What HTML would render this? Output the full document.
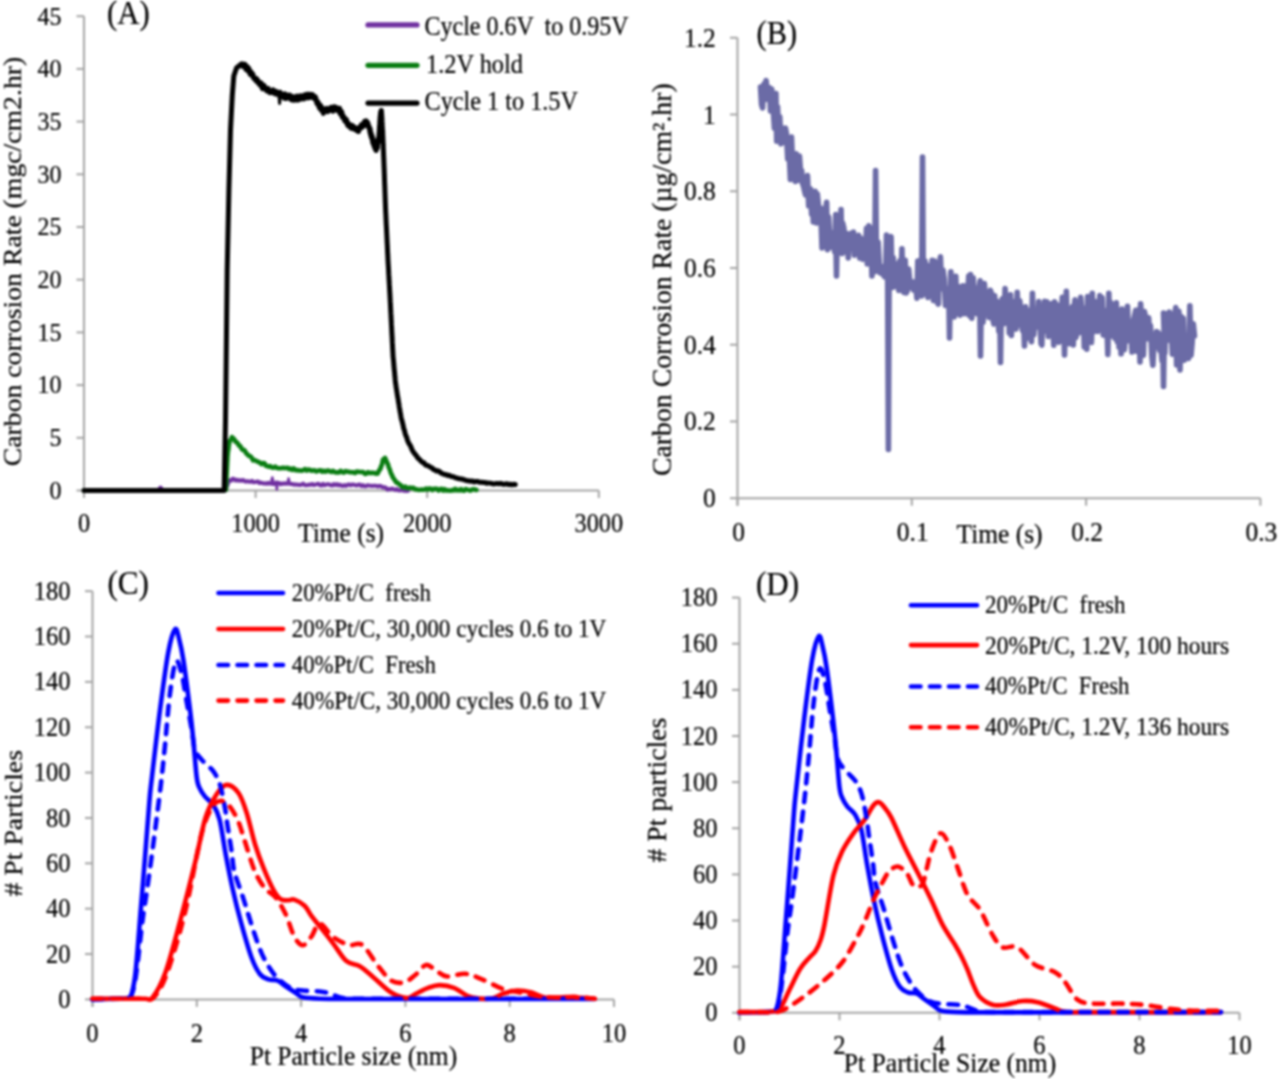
<!DOCTYPE html>
<html><head><meta charset="utf-8"><title>Carbon corrosion and Pt particle size</title>
<style>
html,body{margin:0;padding:0;background:#fff;}
body{width:1280px;height:1079px;overflow:hidden;}
svg{display:block;filter:blur(1px);font-family:"Liberation Serif", serif;}
</style></head>
<body>
<svg width="1280" height="1079" viewBox="0 0 1280 1079">
<rect width="1280" height="1079" fill="#ffffff"/>
<line x1="84.00" y1="16.20" x2="84.00" y2="498.00" stroke="#a4a4a4" stroke-width="2.0"/>
<line x1="84.00" y1="490.50" x2="598.80" y2="490.50" stroke="#a4a4a4" stroke-width="2.0"/>
<line x1="76.50" y1="490.50" x2="84.00" y2="490.50" stroke="#a4a4a4" stroke-width="2.0"/>
<g transform="translate(61.50,498.80) scale(1,1.08)"><text x="0" y="0" font-size="24" text-anchor="end" fill="#000000" stroke="#000000" stroke-width="0.2" xml:space="preserve">0</text></g>
<line x1="76.50" y1="437.80" x2="84.00" y2="437.80" stroke="#a4a4a4" stroke-width="2.0"/>
<g transform="translate(61.50,446.10) scale(1,1.08)"><text x="0" y="0" font-size="24" text-anchor="end" fill="#000000" stroke="#000000" stroke-width="0.2" xml:space="preserve">5</text></g>
<line x1="76.50" y1="385.10" x2="84.00" y2="385.10" stroke="#a4a4a4" stroke-width="2.0"/>
<g transform="translate(61.50,393.40) scale(1,1.08)"><text x="0" y="0" font-size="24" text-anchor="end" fill="#000000" stroke="#000000" stroke-width="0.2" xml:space="preserve">10</text></g>
<line x1="76.50" y1="332.40" x2="84.00" y2="332.40" stroke="#a4a4a4" stroke-width="2.0"/>
<g transform="translate(61.50,340.70) scale(1,1.08)"><text x="0" y="0" font-size="24" text-anchor="end" fill="#000000" stroke="#000000" stroke-width="0.2" xml:space="preserve">15</text></g>
<line x1="76.50" y1="279.70" x2="84.00" y2="279.70" stroke="#a4a4a4" stroke-width="2.0"/>
<g transform="translate(61.50,288.00) scale(1,1.08)"><text x="0" y="0" font-size="24" text-anchor="end" fill="#000000" stroke="#000000" stroke-width="0.2" xml:space="preserve">20</text></g>
<line x1="76.50" y1="227.00" x2="84.00" y2="227.00" stroke="#a4a4a4" stroke-width="2.0"/>
<g transform="translate(61.50,235.30) scale(1,1.08)"><text x="0" y="0" font-size="24" text-anchor="end" fill="#000000" stroke="#000000" stroke-width="0.2" xml:space="preserve">25</text></g>
<line x1="76.50" y1="174.30" x2="84.00" y2="174.30" stroke="#a4a4a4" stroke-width="2.0"/>
<g transform="translate(61.50,182.60) scale(1,1.08)"><text x="0" y="0" font-size="24" text-anchor="end" fill="#000000" stroke="#000000" stroke-width="0.2" xml:space="preserve">30</text></g>
<line x1="76.50" y1="121.60" x2="84.00" y2="121.60" stroke="#a4a4a4" stroke-width="2.0"/>
<g transform="translate(61.50,129.90) scale(1,1.08)"><text x="0" y="0" font-size="24" text-anchor="end" fill="#000000" stroke="#000000" stroke-width="0.2" xml:space="preserve">35</text></g>
<line x1="76.50" y1="68.90" x2="84.00" y2="68.90" stroke="#a4a4a4" stroke-width="2.0"/>
<g transform="translate(61.50,77.20) scale(1,1.08)"><text x="0" y="0" font-size="24" text-anchor="end" fill="#000000" stroke="#000000" stroke-width="0.2" xml:space="preserve">40</text></g>
<line x1="76.50" y1="16.20" x2="84.00" y2="16.20" stroke="#a4a4a4" stroke-width="2.0"/>
<g transform="translate(61.50,24.50) scale(1,1.08)"><text x="0" y="0" font-size="24" text-anchor="end" fill="#000000" stroke="#000000" stroke-width="0.2" xml:space="preserve">45</text></g>
<line x1="84.00" y1="490.50" x2="84.00" y2="498.00" stroke="#a4a4a4" stroke-width="2.0"/>
<g transform="translate(84.00,532.00) scale(1,1.08)"><text x="0" y="0" font-size="24.3" text-anchor="middle" fill="#000000" stroke="#000000" stroke-width="0.2" xml:space="preserve">0</text></g>
<line x1="255.60" y1="490.50" x2="255.60" y2="498.00" stroke="#a4a4a4" stroke-width="2.0"/>
<g transform="translate(255.60,532.00) scale(1,1.08)"><text x="0" y="0" font-size="24.3" text-anchor="middle" fill="#000000" stroke="#000000" stroke-width="0.2" xml:space="preserve">1000</text></g>
<line x1="427.20" y1="490.50" x2="427.20" y2="498.00" stroke="#a4a4a4" stroke-width="2.0"/>
<g transform="translate(427.20,532.00) scale(1,1.08)"><text x="0" y="0" font-size="24.3" text-anchor="middle" fill="#000000" stroke="#000000" stroke-width="0.2" xml:space="preserve">2000</text></g>
<line x1="598.80" y1="490.50" x2="598.80" y2="498.00" stroke="#a4a4a4" stroke-width="2.0"/>
<g transform="translate(598.80,532.00) scale(1,1.08)"><text x="0" y="0" font-size="24.3" text-anchor="middle" fill="#000000" stroke="#000000" stroke-width="0.2" xml:space="preserve">3000</text></g>
<g transform="translate(298.00,542.00) scale(1,1.08)"><text x="0" y="0" font-size="25.3" text-anchor="start" textLength="86.0" lengthAdjust="spacingAndGlyphs" fill="#000000" stroke="#000000" stroke-width="0.2" xml:space="preserve">Time (s)</text></g>
<g transform="translate(20.90,466.20) rotate(-90)"><text x="0" y="0" font-size="25.7" textLength="409.4" lengthAdjust="spacingAndGlyphs" fill="#000000" stroke="#000000" stroke-width="0.2" xml:space="preserve">Carbon corrosion Rate (mgc/cm2.hr)</text></g>
<g transform="translate(107.00,23.90) scale(1,1.08)"><text x="0" y="0" font-size="30.8" text-anchor="start" fill="#000000" stroke="#000000" stroke-width="0.2" xml:space="preserve">(A)</text></g>
<line x1="368.00" y1="24.90" x2="417.00" y2="24.90" stroke="#7030a0" stroke-width="5.2" stroke-linecap="round"/>
<line x1="368.00" y1="65.30" x2="417.00" y2="65.30" stroke="#0a7d12" stroke-width="5.2" stroke-linecap="round"/>
<line x1="368.00" y1="103.10" x2="417.00" y2="103.10" stroke="#000000" stroke-width="5.2" stroke-linecap="round"/>
<g transform="translate(424.50,34.60) scale(1,1.08)"><text x="0" y="0" font-size="24.6" text-anchor="start" textLength="204.0" lengthAdjust="spacingAndGlyphs" fill="#000000" stroke="#000000" stroke-width="0.2" xml:space="preserve">Cycle 0.6V  to 0.95V</text></g>
<g transform="translate(426.00,72.60) scale(1,1.08)"><text x="0" y="0" font-size="24.6" text-anchor="start" textLength="97.0" lengthAdjust="spacingAndGlyphs" fill="#000000" stroke="#000000" stroke-width="0.2" xml:space="preserve">1.2V hold</text></g>
<g transform="translate(424.50,110.10) scale(1,1.08)"><text x="0" y="0" font-size="24.6" text-anchor="start" textLength="153.5" lengthAdjust="spacingAndGlyphs" fill="#000000" stroke="#000000" stroke-width="0.2" xml:space="preserve">Cycle 1 to 1.5V</text></g>
<path d="M84.00,490.50 L85.51,490.50 L87.02,490.50 L88.53,490.50 L90.04,490.50 L91.55,490.50 L93.06,490.50 L94.57,490.50 L96.08,490.50 L97.59,490.50 L99.10,490.50 L100.61,490.50 L102.12,490.50 L103.63,490.50 L105.14,490.50 L106.65,490.50 L108.16,490.50 L109.67,490.50 L111.18,490.50 L112.69,490.50 L114.20,490.50 L115.71,490.50 L117.22,490.50 L118.73,490.50 L120.24,490.50 L121.76,490.50 L123.27,490.50 L124.78,490.50 L126.29,490.50 L127.80,490.50 L129.31,490.50 L130.82,490.50 L132.33,490.50 L133.84,490.50 L135.35,490.50 L136.86,490.50 L138.37,490.50 L139.88,490.50 L141.39,490.50 L142.90,490.50 L144.41,490.50 L145.92,490.50 L147.43,490.50 L148.94,490.50 L150.45,490.50 L151.96,490.50 L153.47,490.50 L154.98,490.50 L156.49,490.50 L158.00,490.50 L159.25,489.00 L160.50,487.50 L161.75,489.00 L163.00,490.50 L164.52,490.50 L166.05,490.49 L167.57,490.49 L169.10,490.48 L170.62,490.48 L172.15,490.47 L173.67,490.47 L175.20,490.46 L176.72,490.46 L178.24,490.45 L179.77,490.45 L181.29,490.44 L182.82,490.44 L184.34,490.43 L185.87,490.43 L187.39,490.42 L188.91,490.42 L190.44,490.41 L191.96,490.41 L193.49,490.40 L195.01,490.40 L196.54,490.39 L198.06,490.39 L199.59,490.38 L201.11,490.38 L202.63,490.37 L204.16,490.37 L205.68,490.36 L207.21,490.36 L208.73,490.35 L210.26,490.35 L211.78,490.34 L213.30,490.34 L214.83,490.33 L216.35,490.33 L217.88,490.32 L219.40,490.32 L220.93,490.31 L222.45,490.31 L223.98,490.30 L225.50,490.30 L225.50,489.83 L226.10,488.72 L226.70,486.75 L227.30,485.51 L227.90,483.89 L228.50,481.22 L229.83,480.19 L231.17,480.74 L232.50,478.77 L234.00,478.94 L235.50,480.53 L237.00,479.81 L238.50,480.69 L240.00,480.26 L241.50,480.72 L243.00,480.00 L244.50,481.04 L246.00,481.63 L247.50,481.18 L249.00,481.73 L250.50,481.78 L252.00,480.85 L253.50,482.26 L255.00,482.13 L256.50,481.78 L258.00,481.46 L259.50,483.12 L261.00,482.58 L262.50,483.19 L264.00,483.54 L265.50,483.30 L267.00,483.73 L268.50,482.83 L270.00,483.62 L271.50,483.04 L273.00,483.98 L274.50,483.93 L276.00,482.58 L277.50,482.70 L279.00,482.91 L280.50,484.31 L282.00,483.41 L283.50,483.81 L285.00,483.28 L286.50,483.71 L288.00,483.55 L289.50,483.54 L291.00,484.02 L292.50,484.07 L294.00,484.70 L295.50,484.36 L297.00,484.86 L298.50,484.79 L300.00,485.08 L301.54,484.54 L303.08,483.66 L304.62,484.94 L306.15,485.16 L307.69,485.08 L309.23,484.51 L310.77,484.80 L312.31,483.93 L313.85,485.07 L315.38,484.64 L316.92,484.15 L318.46,483.78 L320.00,485.24 L321.54,485.51 L323.08,483.92 L324.62,485.23 L326.15,484.56 L327.69,484.13 L329.23,484.41 L330.77,485.30 L332.31,485.52 L333.85,484.06 L335.38,485.11 L336.92,484.12 L338.46,485.36 L340.00,484.70 L341.53,485.72 L343.05,485.93 L344.58,485.10 L346.11,486.02 L347.63,484.81 L349.16,484.42 L350.69,485.39 L352.22,484.40 L353.74,484.73 L355.27,485.14 L356.80,485.54 L358.32,484.75 L359.85,484.58 L361.38,486.09 L362.90,485.13 L364.43,486.32 L365.96,486.24 L367.48,485.33 L369.01,485.51 L370.54,485.65 L372.07,485.91 L373.59,485.85 L375.12,485.81 L376.65,485.95 L378.17,486.56 L379.70,485.81 L381.26,486.28 L382.82,487.40 L384.38,487.13 L385.94,487.84 L387.50,489.66 L389.06,489.03 L390.62,489.26 L392.19,488.48 L393.75,489.40 L395.31,489.88 L396.88,489.06 L398.44,490.32 L400.00,490.54 L401.60,489.61 L403.20,490.73 L404.80,490.54 L406.40,491.02 L408.00,490.80" fill="none" stroke="#7030a0" stroke-width="4.0" stroke-linejoin="round" stroke-linecap="round"/>
<path d="M271.50,480.50 L272.30,477.50 L273.10,481.00" fill="none" stroke="#7030a0" stroke-width="2.5" stroke-linejoin="round" stroke-linecap="round"/>
<path d="M276.40,484.00 L276.80,489.50 L277.40,484.00" fill="none" stroke="#7030a0" stroke-width="2.5" stroke-linejoin="round" stroke-linecap="round"/>
<path d="M288.00,481.50 L288.60,478.50 L289.30,481.50" fill="none" stroke="#7030a0" stroke-width="2.5" stroke-linejoin="round" stroke-linecap="round"/>
<path d="M84.00,490.50 L225.80,490.01 L225.88,489.18 L225.96,487.71 L226.03,484.74 L226.11,483.28 L226.19,482.98 L226.27,482.02 L226.35,479.06 L226.43,477.93 L226.50,476.67 L226.58,474.59 L226.66,473.15 L226.74,471.51 L226.82,470.09 L226.90,469.00 L226.97,466.88 L227.05,465.50 L227.13,464.75 L227.21,461.73 L227.29,461.28 L227.37,460.07 L227.44,457.69 L227.52,455.98 L227.60,455.61 L227.81,452.92 L228.02,451.26 L228.23,450.20 L228.44,449.17 L228.66,446.43 L228.87,445.31 L229.08,443.78 L229.29,443.22 L229.50,440.88 L230.75,440.11 L232.00,437.14 L233.25,438.32 L234.50,439.80 L235.38,441.52 L236.25,441.90 L237.12,442.70 L238.00,443.74 L239.17,445.73 L240.33,446.21 L241.50,448.61 L242.67,449.84 L243.83,449.70 L245.00,451.06 L246.16,453.30 L247.31,454.16 L248.47,455.67 L249.63,455.93 L250.79,456.69 L251.94,458.20 L253.10,460.39 L254.48,459.94 L255.86,460.69 L257.24,461.43 L258.62,462.04 L260.00,462.62 L261.47,464.14 L262.94,463.11 L264.41,463.31 L265.89,465.69 L267.36,466.06 L268.83,466.77 L270.30,466.17 L271.92,467.47 L273.53,467.69 L275.15,466.54 L276.77,467.86 L278.38,468.31 L280.00,468.23 L281.53,468.10 L283.06,467.81 L284.58,468.08 L286.11,468.02 L287.64,467.87 L289.17,469.08 L290.69,468.64 L292.22,469.85 L293.75,468.49 L295.38,470.30 L297.00,469.97 L298.62,470.52 L300.25,470.55 L301.88,470.65 L303.50,470.09 L305.12,469.06 L306.75,470.61 L308.38,469.55 L310.00,469.90 L311.53,470.70 L313.06,470.50 L314.59,470.35 L316.12,471.48 L317.65,470.90 L319.18,470.43 L320.71,470.33 L322.24,471.62 L323.77,470.93 L325.30,471.61 L326.83,470.83 L328.36,470.59 L329.89,471.34 L331.42,471.98 L332.95,470.77 L334.48,472.08 L336.01,472.42 L337.54,472.26 L339.07,472.37 L340.60,470.82 L342.22,472.13 L343.83,472.68 L345.45,471.12 L347.07,471.64 L348.68,471.71 L350.30,472.30 L351.92,472.17 L353.53,472.35 L355.15,473.03 L356.77,471.55 L358.38,471.73 L360.00,471.95 L361.59,472.01 L363.18,471.96 L364.77,473.84 L366.36,473.66 L367.95,472.19 L369.55,473.09 L371.14,472.78 L372.73,472.84 L374.32,472.98 L375.91,473.63 L377.50,473.57 L378.50,471.66 L379.50,469.85 L380.50,468.66 L381.00,466.55 L381.50,465.71 L382.00,464.33 L382.50,461.96 L383.00,459.66 L385.00,457.86 L385.83,459.75 L386.67,461.71 L387.50,463.57 L388.00,464.26 L388.50,466.60 L389.00,467.75 L389.50,468.86 L390.00,470.24 L390.50,471.99 L391.20,473.91 L391.90,474.84 L392.60,476.89 L393.30,477.92 L394.00,478.99 L395.33,481.01 L396.67,482.76 L398.00,482.94 L399.40,484.45 L400.80,485.25 L402.20,486.96 L403.76,487.43 L405.32,486.67 L406.88,488.08 L408.44,488.22 L410.00,487.52 L411.75,488.20 L413.50,487.80 L415.25,489.45 L417.00,489.42 L418.53,489.92 L420.07,489.78 L421.60,489.58 L423.13,489.75 L424.67,489.46 L426.20,488.59 L427.73,489.60 L429.27,488.48 L430.80,488.81 L432.33,490.12 L433.87,488.70 L435.40,488.84 L436.93,488.91 L438.47,490.51 L440.00,489.16 L441.52,488.86 L443.03,490.50 L444.55,489.07 L446.07,490.52 L447.58,490.19 L449.10,490.52 L450.62,490.76 L452.13,490.02 L453.65,490.47 L455.17,488.96 L456.68,490.43 L458.20,489.92 L459.72,490.34 L461.23,489.13 L462.75,490.42 L464.27,490.80 L465.78,489.06 L467.30,489.60 L468.82,490.09 L470.33,490.62 L471.85,489.46 L473.37,489.34 L474.88,489.49 L476.40,490.00" fill="none" stroke="#0a7d12" stroke-width="4.6" stroke-linejoin="round" stroke-linecap="round"/>
<path d="M84.00,490.50 L224.20,490.50 L225.50,420.00 L226.30,350.00 L227.20,270.00 L228.90,190.00 L230.50,130.00 L232.30,95.00 L233.80,76.00 L236.50,68.00 L241.40,64.00 L242.32,66.04 L243.23,64.09 L244.15,66.96 L245.07,64.45 L245.98,69.48 L246.90,66.32 L247.58,67.16 L248.25,71.37 L248.93,68.42 L249.60,72.35 L250.28,74.54 L250.95,71.64 L251.62,72.88 L252.30,75.79 L252.97,74.30 L253.65,78.25 L254.32,78.40 L255.00,79.41 L255.68,80.47 L256.36,78.46 L257.05,81.84 L257.73,80.08 L258.41,83.12 L259.09,83.60 L259.77,84.93 L260.45,82.68 L261.14,82.85 L261.82,87.26 L262.50,88.66 L263.44,85.05 L264.38,85.99 L265.31,89.11 L266.25,90.35 L267.19,91.15 L268.12,88.46 L269.06,91.03 L270.00,92.66 L271.01,92.07 L272.02,92.60 L273.04,89.83 L274.05,93.08 L275.06,93.84 L276.08,91.36 L277.09,94.21 L278.10,92.45 L279.09,95.30 L280.08,92.23 L281.06,96.51 L282.05,94.02 L283.04,96.43 L284.02,98.10 L285.01,93.87 L286.00,98.52 L286.98,97.97 L287.95,95.18 L288.93,96.08 L289.90,95.16 L290.88,99.37 L291.85,96.45 L292.82,100.18 L293.80,96.83 L294.83,100.14 L295.87,97.15 L296.90,96.18 L297.93,100.12 L298.97,96.39 L300.00,95.78 L301.00,99.14 L302.00,95.92 L303.00,97.84 L304.00,98.82 L305.00,94.70 L306.00,97.67 L307.08,94.23 L308.17,97.90 L309.25,94.24 L310.33,97.45 L311.42,94.45 L312.50,94.69 L313.38,95.97 L314.25,98.64 L315.12,96.60 L316.00,98.47 L316.50,101.86 L317.00,103.47 L317.50,104.03 L318.00,101.86 L318.50,105.79 L319.00,104.07 L319.50,108.10 L320.00,104.93 L320.68,105.53 L321.36,110.33 L322.04,107.74 L322.72,108.49 L323.40,113.36 L324.49,109.18 L325.57,109.90 L326.66,108.51 L327.74,111.66 L328.83,108.73 L329.91,110.27 L331.00,107.39 L332.00,110.71 L333.00,111.10 L334.00,106.67 L335.00,109.37 L336.00,107.29 L337.00,110.39 L338.00,110.40 L339.00,111.39 L339.56,108.28 L340.11,113.67 L340.67,114.30 L341.22,111.20 L341.78,112.05 L342.33,117.16 L342.89,115.21 L343.44,117.91 L344.00,117.01 L344.63,120.81 L345.26,118.40 L345.89,121.97 L346.51,119.67 L347.14,123.59 L347.77,125.41 L348.40,123.06 L349.32,126.74 L350.24,124.92 L351.16,128.30 L352.08,125.39 L353.00,128.57 L353.96,126.68 L354.92,129.43 L355.88,128.24 L356.84,130.64 L357.80,128.93 L358.50,131.49 L359.20,127.37 L359.90,128.71 L360.60,128.22 L361.30,124.80 L362.00,127.27 L362.88,123.87 L363.76,126.04 L364.64,121.36 L365.52,124.99 L366.40,120.86 L367.10,125.09 L367.80,122.70 L368.50,126.87 L368.78,127.71 L369.06,126.23 L369.33,129.01 L369.61,128.19 L369.89,132.23 L370.17,128.64 L370.44,134.07 L370.72,135.30 L371.00,132.77 L371.27,137.31 L371.55,134.79 L371.82,136.09 L372.09,139.28 L372.36,136.72 L372.64,141.96 L372.91,143.12 L373.18,139.73 L373.45,144.42 L373.73,141.97 L374.00,146.17 L374.52,143.97 L375.04,148.71 L375.56,146.16 L376.08,150.51 L376.60,148.00 L376.80,146.60 L377.00,148.53 L377.20,148.16 L377.40,147.50 L377.60,142.05 L377.80,141.95 L378.00,143.02 L378.20,138.81 L378.40,141.77 L378.60,138.19 L378.80,139.12 L378.87,136.02 L378.94,137.70 L379.01,133.89 L379.08,132.91 L379.15,134.42 L379.22,133.74 L379.29,132.62 L379.36,128.98 L379.43,131.11 L379.50,127.24 L379.57,125.95 L379.63,125.14 L379.70,126.09 L379.77,125.75 L379.84,121.00 L379.91,120.70 L379.98,122.47 L380.05,117.88 L380.12,121.09 L380.19,116.37 L380.26,118.94 L380.33,114.70 L380.40,115.84 L380.65,111.92 L380.90,114.56 L381.15,110.55 L381.40,110.50 L381.49,112.50 L381.58,113.34 L381.68,114.93 L381.77,116.08 L381.86,117.72 L381.95,119.17 L382.05,121.43 L382.14,122.73 L382.23,124.37 L382.32,125.99 L382.42,127.11 L382.51,128.93 L382.60,130.04 L382.66,131.46 L382.72,133.52 L382.78,135.02 L382.85,136.60 L382.91,137.68 L382.97,139.50 L383.03,140.68 L383.09,142.80 L383.15,144.27 L383.22,145.18 L383.28,147.36 L383.34,148.15 L383.40,149.60 L383.46,151.76 L383.52,152.87 L383.58,154.63 L383.65,156.29 L383.71,157.23 L383.77,159.48 L383.83,160.55 L383.89,162.24 L383.95,163.69 L384.02,165.63 L384.08,167.17 L384.14,168.25 L384.20,169.60 L384.25,171.34 L384.31,172.99 L384.36,174.19 L384.42,175.81 L384.47,177.96 L384.52,179.43 L384.58,181.25 L384.63,182.79 L384.68,184.22 L384.74,185.26 L384.79,186.58 L384.85,188.27 L384.90,189.96 L384.95,191.56 L385.01,193.12 L385.06,194.48 L385.12,196.51 L385.17,197.48 L385.22,199.19 L385.28,201.16 L385.33,202.61 L385.38,203.64 L385.44,205.13 L385.49,207.23 L385.55,207.97 L385.60,209.63 L385.67,211.55 L385.75,213.07 L385.82,214.21 L385.89,215.61 L385.96,217.28 L386.04,219.36 L386.11,220.57 L386.18,222.60 L386.25,223.92 L386.33,225.63 L386.40,226.20 L386.47,227.87 L386.55,229.21 L386.62,231.14 L386.69,232.57 L386.76,233.79 L386.84,235.80 L386.91,236.87 L386.98,238.60 L387.05,240.05 L387.13,242.12 L387.20,243.25 L387.27,244.61 L387.35,245.91 L387.42,247.81 L387.49,249.52 L387.56,251.08 L387.64,252.84 L387.71,254.25 L387.78,255.20 L387.85,256.61 L387.93,258.74 L388.00,260.29 L388.08,261.55 L388.17,263.41 L388.25,264.67 L388.34,265.93 L388.42,267.36 L388.51,268.75 L388.59,270.91 L388.68,272.70 L388.76,274.25 L388.85,275.35 L388.93,277.09 L389.02,278.89 L389.10,280.31 L389.18,281.64 L389.27,282.99 L389.35,284.63 L389.44,285.82 L389.52,287.38 L389.61,289.41 L389.69,291.26 L389.78,292.35 L389.86,293.75 L389.95,295.24 L390.03,296.88 L390.12,298.76 L390.20,299.95 L390.28,301.96 L390.35,302.66 L390.43,304.32 L390.50,306.03 L390.58,307.43 L390.65,309.37 L390.73,310.85 L390.81,312.45 L390.88,313.64 L390.96,314.56 L391.03,316.60 L391.11,318.08 L391.18,319.52 L391.26,320.82 L391.34,322.75 L391.41,324.45 L391.49,325.15 L391.56,327.22 L391.64,328.42 L391.71,330.07 L391.79,331.95 L391.86,333.52 L391.94,334.71 L392.02,335.76 L392.09,337.99 L392.17,338.75 L392.24,340.46 L392.32,342.40 L392.39,343.39 L392.47,344.85 L392.55,347.03 L392.62,348.53 L392.70,349.41 L392.77,350.98 L392.85,352.38 L392.92,353.73 L393.00,355.35 L393.14,357.60 L393.28,358.22 L393.42,359.90 L393.56,361.39 L393.69,362.79 L393.83,364.76 L393.97,366.50 L394.11,368.12 L394.25,369.43 L394.39,371.14 L394.53,371.85 L394.67,373.65 L394.81,375.85 L394.94,376.48 L395.08,378.20 L395.22,379.94 L395.36,381.25 L395.50,383.05 L395.75,384.13 L396.00,385.90 L396.25,388.21 L396.50,388.98 L396.75,391.32 L397.00,392.18 L397.25,394.58 L397.50,395.84 L397.75,397.40 L398.00,398.48 L398.25,399.97 L398.50,402.26 L398.75,403.18 L399.00,404.69 L399.25,406.82 L399.50,408.37 L399.75,409.05 L400.00,411.46 L400.25,412.53 L400.50,413.88 L400.75,415.11 L401.00,416.89 L401.39,419.09 L401.77,419.98 L402.16,421.43 L402.55,423.05 L402.94,424.63 L403.33,426.45 L403.71,428.61 L404.10,429.38 L404.59,430.95 L405.08,433.16 L405.56,434.68 L406.05,436.13 L406.54,436.86 L407.02,438.43 L407.51,440.49 L408.00,441.49 L408.77,443.20 L409.54,444.31 L410.31,445.52 L411.09,447.35 L411.86,449.25 L412.63,450.78 L413.40,452.07 L414.33,453.16 L415.27,454.44 L416.20,455.54 L417.13,456.83 L418.07,458.33 L419.00,458.90 L420.22,460.26 L421.43,461.57 L422.65,462.45 L423.87,462.75 L425.08,464.50 L426.30,465.34 L427.75,465.50 L429.20,466.43 L430.65,467.20 L432.10,467.89 L433.55,469.65 L435.00,469.91 L436.41,470.99 L437.83,470.84 L439.24,471.36 L440.66,472.83 L442.07,473.37 L443.49,474.18 L444.90,474.49 L446.36,474.79 L447.81,475.50 L449.27,475.29 L450.72,476.21 L452.18,476.57 L453.63,476.75 L455.09,477.67 L456.54,477.86 L458.00,478.51 L459.63,478.68 L461.27,478.94 L462.90,479.29 L464.53,479.85 L466.17,480.54 L467.80,480.80 L469.43,481.04 L471.07,481.32 L472.70,481.09 L474.24,481.94 L475.78,481.40 L477.32,481.42 L478.87,481.97 L480.41,482.37 L481.95,482.14 L483.49,482.61 L485.03,482.42 L486.57,483.27 L488.12,482.92 L489.66,483.11 L491.20,483.33 L492.73,483.75 L494.27,483.94 L495.80,483.56 L497.33,483.55 L498.87,483.81 L500.40,483.34 L501.93,483.77 L503.47,484.27 L505.00,484.28 L506.72,483.64 L508.43,484.52 L510.15,484.13 L511.87,484.81 L513.58,484.28 L515.30,484.50" fill="none" stroke="#000000" stroke-width="5.0" stroke-linejoin="round" stroke-linecap="round"/>
<path d="M279.00,95.50 L279.60,103.50 L280.20,96.00" fill="none" stroke="#000000" stroke-width="3.0" stroke-linejoin="round" stroke-linecap="round"/>
<line x1="737.50" y1="37.76" x2="737.50" y2="505.70" stroke="#a4a4a4" stroke-width="2.0"/>
<line x1="737.50" y1="498.20" x2="1260.40" y2="498.20" stroke="#a4a4a4" stroke-width="2.0"/>
<line x1="730.00" y1="498.20" x2="737.50" y2="498.20" stroke="#a4a4a4" stroke-width="2.0"/>
<g transform="translate(715.80,507.20) scale(1,1.08)"><text x="0" y="0" font-size="25.5" text-anchor="end" fill="#000000" stroke="#000000" stroke-width="0.2" xml:space="preserve">0</text></g>
<line x1="730.00" y1="421.46" x2="737.50" y2="421.46" stroke="#a4a4a4" stroke-width="2.0"/>
<g transform="translate(715.80,430.46) scale(1,1.08)"><text x="0" y="0" font-size="25.5" text-anchor="end" fill="#000000" stroke="#000000" stroke-width="0.2" xml:space="preserve">0.2</text></g>
<line x1="730.00" y1="344.72" x2="737.50" y2="344.72" stroke="#a4a4a4" stroke-width="2.0"/>
<g transform="translate(715.80,353.72) scale(1,1.08)"><text x="0" y="0" font-size="25.5" text-anchor="end" fill="#000000" stroke="#000000" stroke-width="0.2" xml:space="preserve">0.4</text></g>
<line x1="730.00" y1="267.98" x2="737.50" y2="267.98" stroke="#a4a4a4" stroke-width="2.0"/>
<g transform="translate(715.80,276.98) scale(1,1.08)"><text x="0" y="0" font-size="25.5" text-anchor="end" fill="#000000" stroke="#000000" stroke-width="0.2" xml:space="preserve">0.6</text></g>
<line x1="730.00" y1="191.24" x2="737.50" y2="191.24" stroke="#a4a4a4" stroke-width="2.0"/>
<g transform="translate(715.80,200.24) scale(1,1.08)"><text x="0" y="0" font-size="25.5" text-anchor="end" fill="#000000" stroke="#000000" stroke-width="0.2" xml:space="preserve">0.8</text></g>
<line x1="730.00" y1="114.50" x2="737.50" y2="114.50" stroke="#a4a4a4" stroke-width="2.0"/>
<g transform="translate(715.80,123.50) scale(1,1.08)"><text x="0" y="0" font-size="25.5" text-anchor="end" fill="#000000" stroke="#000000" stroke-width="0.2" xml:space="preserve">1</text></g>
<line x1="730.00" y1="37.76" x2="737.50" y2="37.76" stroke="#a4a4a4" stroke-width="2.0"/>
<g transform="translate(715.80,46.76) scale(1,1.08)"><text x="0" y="0" font-size="25.5" text-anchor="end" fill="#000000" stroke="#000000" stroke-width="0.2" xml:space="preserve">1.2</text></g>
<line x1="737.50" y1="498.20" x2="737.50" y2="505.70" stroke="#a4a4a4" stroke-width="2.0"/>
<g transform="translate(738.50,540.50) scale(1,1.08)"><text x="0" y="0" font-size="25.5" text-anchor="middle" fill="#000000" stroke="#000000" stroke-width="0.2" xml:space="preserve">0</text></g>
<line x1="911.80" y1="498.20" x2="911.80" y2="505.70" stroke="#a4a4a4" stroke-width="2.0"/>
<g transform="translate(912.80,540.50) scale(1,1.08)"><text x="0" y="0" font-size="25.5" text-anchor="middle" fill="#000000" stroke="#000000" stroke-width="0.2" xml:space="preserve">0.1</text></g>
<line x1="1086.10" y1="498.20" x2="1086.10" y2="505.70" stroke="#a4a4a4" stroke-width="2.0"/>
<g transform="translate(1087.10,540.50) scale(1,1.08)"><text x="0" y="0" font-size="25.5" text-anchor="middle" fill="#000000" stroke="#000000" stroke-width="0.2" xml:space="preserve">0.2</text></g>
<line x1="1260.40" y1="498.20" x2="1260.40" y2="505.70" stroke="#a4a4a4" stroke-width="2.0"/>
<g transform="translate(1261.40,540.50) scale(1,1.08)"><text x="0" y="0" font-size="25.5" text-anchor="middle" fill="#000000" stroke="#000000" stroke-width="0.2" xml:space="preserve">0.3</text></g>
<g transform="translate(956.50,543.00) scale(1,1.08)"><text x="0" y="0" font-size="25.3" text-anchor="start" textLength="86.0" lengthAdjust="spacingAndGlyphs" fill="#000000" stroke="#000000" stroke-width="0.2" xml:space="preserve">Time (s)</text></g>
<g transform="translate(671.20,476.00) rotate(-90)"><text x="0" y="0" font-size="26.8" textLength="392.7" lengthAdjust="spacingAndGlyphs" fill="#000000" stroke="#000000" stroke-width="0.2" xml:space="preserve">Carbon Corrosion Rate (µg/cm².hr)</text></g>
<g transform="translate(756.60,44.00) scale(1,1.08)"><text x="0" y="0" font-size="30.3" text-anchor="start" fill="#000000" stroke="#000000" stroke-width="0.2" xml:space="preserve">(B)</text></g>
<path d="M760.50,86.94 L761.53,104.34 L762.58,107.86 L763.50,85.30 L764.23,83.79 L765.36,99.35 L766.10,80.57 L767.11,90.30 L768.16,92.07 L769.56,87.66 L770.48,110.98 L771.71,89.00 L773.08,106.83 L774.42,128.07 L775.17,126.85 L775.93,93.52 L776.71,141.22 L777.54,106.71 L778.75,134.25 L779.75,116.58 L781.01,143.82 L781.98,142.87 L783.38,128.26 L784.31,142.24 L785.42,127.98 L786.43,133.55 L787.74,158.94 L789.01,149.55 L790.37,179.39 L791.49,137.16 L792.36,157.88 L793.48,169.91 L794.22,156.43 L795.35,181.49 L796.07,153.86 L797.02,172.86 L798.35,180.26 L799.46,156.15 L800.65,173.04 L801.69,170.33 L802.44,183.26 L803.65,186.57 L804.60,191.26 L805.59,194.92 L806.73,178.44 L807.49,175.54 L808.70,205.79 L809.70,199.12 L810.42,188.70 L811.61,214.16 L812.49,195.54 L813.33,221.83 L814.34,214.40 L815.18,191.23 L816.50,222.96 L817.29,193.80 L818.49,205.51 L819.51,221.43 L820.65,208.10 L822.03,247.84 L822.76,233.07 L824.02,215.67 L824.73,213.88 L825.47,210.18 L826.63,202.23 L827.46,249.73 L828.66,216.80 L829.85,241.04 L830.83,247.11 L832.18,233.01 L833.32,239.90 L834.63,251.67 L835.79,214.58 L835.70,232.45 L836.50,276.00 L837.30,232.45 L836.94,226.08 L838.33,220.95 L839.25,216.64 L840.01,248.57 L841.05,209.66 L841.87,253.57 L842.67,223.08 L843.86,228.21 L844.62,251.08 L845.83,251.79 L846.92,233.54 L848.25,257.84 L849.32,239.21 L850.37,246.09 L851.43,233.07 L852.47,244.58 L853.46,232.07 L854.49,255.24 L855.82,240.05 L856.96,243.46 L857.67,252.69 L858.60,235.22 L859.81,258.00 L860.65,237.85 L861.64,252.17 L862.78,259.24 L863.91,254.18 L865.18,256.13 L866.52,228.30 L867.32,264.02 L868.08,258.94 L868.87,225.89 L870.05,228.03 L871.10,236.66 L871.94,275.94 L873.00,245.42 L873.84,230.08 L874.61,271.65 L874.80,252.05 L875.60,170.50 L876.40,252.05 L875.84,240.34 L876.84,253.65 L878.13,242.04 L879.12,259.71 L879.83,272.52 L881.13,266.20 L882.18,274.06 L883.52,274.46 L884.50,276.76 L885.74,269.34 L886.49,234.97 L887.64,253.33 L887.60,261.04 L888.40,449.50 L889.20,261.04 L888.80,276.77 L889.88,241.36 L891.07,236.60 L892.29,287.35 L893.25,257.92 L894.33,286.81 L895.73,285.50 L896.85,270.63 L897.66,263.77 L898.79,290.44 L899.86,260.88 L901.02,279.30 L901.92,248.81 L903.15,291.26 L903.89,292.27 L905.22,260.23 L906.09,292.89 L907.12,291.25 L907.90,285.03 L908.64,268.99 L909.80,281.63 L910.80,287.41 L912.16,281.84 L913.49,290.03 L914.38,289.22 L915.52,281.76 L916.91,298.16 L917.80,261.10 L918.88,280.04 L919.96,287.27 L920.81,259.78 L921.56,295.95 L921.70,277.70 L922.50,157.00 L923.30,277.70 L922.80,266.35 L924.07,294.04 L924.99,260.93 L925.99,282.57 L926.75,264.75 L927.93,297.49 L928.78,282.98 L929.98,288.53 L930.94,290.80 L932.13,260.25 L933.47,300.34 L934.39,260.93 L935.27,292.82 L936.24,276.31 L937.50,302.87 L938.33,304.04 L939.04,269.96 L940.42,256.85 L941.67,288.71 L943.00,269.93 L944.22,278.60 L945.46,305.43 L946.39,304.19 L947.47,305.37 L948.46,305.07 L948.70,288.83 L949.50,338.00 L950.30,288.83 L949.72,309.70 L950.87,271.87 L951.86,295.28 L953.26,284.56 L954.26,317.00 L955.04,310.25 L955.78,276.38 L956.50,298.46 L957.37,307.94 L958.20,286.62 L959.12,312.96 L960.00,315.10 L961.08,307.35 L961.82,313.89 L962.89,285.81 L964.05,295.89 L965.01,313.66 L965.82,285.76 L967.13,313.12 L968.01,290.94 L968.71,276.04 L969.47,315.71 L970.51,274.63 L971.81,318.15 L973.15,277.88 L974.23,305.11 L975.15,295.96 L976.17,288.62 L976.95,313.74 L978.23,301.57 L979.43,285.24 L980.13,280.73 L979.70,301.56 L980.50,356.00 L981.30,301.56 L981.26,313.64 L982.17,290.02 L983.05,322.06 L984.41,283.67 L985.69,309.31 L986.87,310.94 L988.15,300.44 L988.96,317.46 L990.31,290.26 L991.54,293.55 L992.53,318.15 L993.92,324.01 L994.63,295.70 L995.41,321.20 L996.69,301.12 L998.02,318.33 L998.82,331.07 L1000.02,315.03 L999.70,308.25 L1000.50,362.50 L1001.30,308.25 L1001.16,304.84 L1002.26,298.74 L1003.21,313.86 L1004.01,323.77 L1005.10,288.47 L1006.37,314.69 L1007.27,317.99 L1008.56,296.49 L1009.28,332.83 L1010.44,294.91 L1011.41,335.37 L1012.43,301.18 L1013.26,320.04 L1014.19,314.20 L1014.99,327.19 L1015.98,328.98 L1017.20,292.24 L1018.50,325.00 L1019.84,300.92 L1021.17,317.19 L1022.50,330.39 L1023.41,312.50 L1024.43,346.00 L1025.49,306.81 L1026.36,338.58 L1027.52,329.59 L1028.38,333.18 L1029.15,322.83 L1030.51,309.72 L1031.44,341.60 L1032.42,293.42 L1033.75,334.73 L1035.13,312.04 L1036.48,312.40 L1037.43,327.01 L1038.82,301.67 L1040.14,324.98 L1041.06,343.59 L1041.85,344.98 L1042.61,309.50 L1043.45,329.04 L1044.70,301.20 L1045.81,330.88 L1046.98,301.75 L1048.37,336.50 L1049.10,310.29 L1050.36,330.60 L1051.23,303.92 L1052.56,318.48 L1053.79,345.16 L1054.61,301.86 L1055.77,304.76 L1057.07,304.72 L1057.89,313.94 L1058.75,342.13 L1060.01,305.53 L1061.11,322.89 L1062.31,297.32 L1063.12,336.20 L1064.13,298.89 L1063.70,320.87 L1064.50,355.00 L1065.30,320.87 L1065.46,337.35 L1066.33,291.24 L1067.46,330.55 L1068.23,327.91 L1069.04,343.63 L1069.78,308.81 L1071.16,336.22 L1072.55,306.59 L1073.28,344.83 L1074.25,307.33 L1074.98,299.77 L1075.84,337.65 L1076.86,333.18 L1078.25,318.69 L1079.40,332.66 L1080.71,297.25 L1081.68,308.39 L1082.53,328.29 L1083.35,312.81 L1084.26,346.87 L1085.57,308.34 L1086.75,349.13 L1087.64,296.51 L1088.52,327.38 L1089.48,341.40 L1090.19,308.31 L1091.51,342.39 L1092.25,293.23 L1093.36,331.86 L1094.44,300.96 L1095.65,314.82 L1096.55,307.79 L1097.85,331.33 L1098.70,319.39 L1099.80,295.48 L1100.97,312.76 L1102.14,297.61 L1103.28,334.92 L1104.02,310.41 L1104.92,335.32 L1105.73,331.62 L1106.67,317.14 L1107.86,354.39 L1108.82,293.39 L1109.93,336.51 L1110.65,302.50 L1111.53,319.30 L1112.66,315.37 L1114.02,310.26 L1115.01,338.41 L1116.32,302.86 L1117.38,342.00 L1118.18,322.53 L1119.05,347.25 L1119.91,313.84 L1121.05,353.82 L1121.99,309.17 L1123.19,313.17 L1124.46,349.72 L1125.56,322.33 L1126.63,341.08 L1127.46,306.22 L1128.23,327.32 L1129.47,338.74 L1130.78,323.26 L1132.03,352.07 L1133.24,321.23 L1134.53,315.80 L1135.72,310.30 L1136.51,351.32 L1137.34,315.43 L1138.72,351.82 L1139.86,308.29 L1139.20,332.57 L1140.00,362.00 L1140.80,332.57 L1140.59,303.71 L1141.80,327.39 L1142.52,347.50 L1143.44,355.17 L1144.41,311.67 L1145.39,316.39 L1146.19,337.57 L1147.07,327.51 L1147.78,338.81 L1148.67,317.88 L1149.55,336.15 L1150.47,325.65 L1151.87,356.20 L1152.86,365.30 L1154.02,342.89 L1155.32,347.21 L1156.53,331.49 L1157.31,345.62 L1158.23,332.61 L1159.60,350.35 L1160.86,347.53 L1162.14,361.21 L1162.70,334.27 L1163.50,386.50 L1164.30,334.27 L1163.50,312.96 L1164.84,352.99 L1165.81,314.07 L1166.76,321.75 L1168.10,339.83 L1169.32,312.04 L1170.49,340.72 L1171.44,334.58 L1172.42,354.11 L1173.26,348.38 L1174.04,351.69 L1174.89,312.89 L1175.78,307.62 L1176.61,365.01 L1177.76,315.62 L1178.89,311.32 L1179.94,341.64 L1179.20,336.26 L1180.00,370.00 L1180.80,336.26 L1181.13,316.59 L1182.09,354.29 L1183.16,318.31 L1184.27,360.31 L1185.30,356.11 L1186.51,348.69 L1187.30,350.45 L1188.59,358.49 L1189.85,305.91 L1191.05,355.20 L1192.12,343.08 L1193.27,323.86 L1194.50,336.00" fill="none" stroke="#6b6ba6" stroke-width="5.6" stroke-linejoin="round" stroke-linecap="round"/>
<line x1="92.50" y1="591.16" x2="92.50" y2="1006.90" stroke="#a4a4a4" stroke-width="2.0"/>
<line x1="92.50" y1="999.40" x2="614.00" y2="999.40" stroke="#a4a4a4" stroke-width="2.0"/>
<line x1="85.00" y1="999.40" x2="92.50" y2="999.40" stroke="#a4a4a4" stroke-width="2.0"/>
<g transform="translate(70.60,1008.00) scale(1,1.08)"><text x="0" y="0" font-size="24.5" text-anchor="end" fill="#000000" stroke="#000000" stroke-width="0.2" xml:space="preserve">0</text></g>
<line x1="85.00" y1="954.04" x2="92.50" y2="954.04" stroke="#a4a4a4" stroke-width="2.0"/>
<g transform="translate(70.60,962.64) scale(1,1.08)"><text x="0" y="0" font-size="24.5" text-anchor="end" fill="#000000" stroke="#000000" stroke-width="0.2" xml:space="preserve">20</text></g>
<line x1="85.00" y1="908.68" x2="92.50" y2="908.68" stroke="#a4a4a4" stroke-width="2.0"/>
<g transform="translate(70.60,917.28) scale(1,1.08)"><text x="0" y="0" font-size="24.5" text-anchor="end" fill="#000000" stroke="#000000" stroke-width="0.2" xml:space="preserve">40</text></g>
<line x1="85.00" y1="863.32" x2="92.50" y2="863.32" stroke="#a4a4a4" stroke-width="2.0"/>
<g transform="translate(70.60,871.92) scale(1,1.08)"><text x="0" y="0" font-size="24.5" text-anchor="end" fill="#000000" stroke="#000000" stroke-width="0.2" xml:space="preserve">60</text></g>
<line x1="85.00" y1="817.96" x2="92.50" y2="817.96" stroke="#a4a4a4" stroke-width="2.0"/>
<g transform="translate(70.60,826.56) scale(1,1.08)"><text x="0" y="0" font-size="24.5" text-anchor="end" fill="#000000" stroke="#000000" stroke-width="0.2" xml:space="preserve">80</text></g>
<line x1="85.00" y1="772.60" x2="92.50" y2="772.60" stroke="#a4a4a4" stroke-width="2.0"/>
<g transform="translate(70.60,781.20) scale(1,1.08)"><text x="0" y="0" font-size="24.5" text-anchor="end" fill="#000000" stroke="#000000" stroke-width="0.2" xml:space="preserve">100</text></g>
<line x1="85.00" y1="727.24" x2="92.50" y2="727.24" stroke="#a4a4a4" stroke-width="2.0"/>
<g transform="translate(70.60,735.84) scale(1,1.08)"><text x="0" y="0" font-size="24.5" text-anchor="end" fill="#000000" stroke="#000000" stroke-width="0.2" xml:space="preserve">120</text></g>
<line x1="85.00" y1="681.88" x2="92.50" y2="681.88" stroke="#a4a4a4" stroke-width="2.0"/>
<g transform="translate(70.60,690.48) scale(1,1.08)"><text x="0" y="0" font-size="24.5" text-anchor="end" fill="#000000" stroke="#000000" stroke-width="0.2" xml:space="preserve">140</text></g>
<line x1="85.00" y1="636.52" x2="92.50" y2="636.52" stroke="#a4a4a4" stroke-width="2.0"/>
<g transform="translate(70.60,645.12) scale(1,1.08)"><text x="0" y="0" font-size="24.5" text-anchor="end" fill="#000000" stroke="#000000" stroke-width="0.2" xml:space="preserve">160</text></g>
<line x1="85.00" y1="591.16" x2="92.50" y2="591.16" stroke="#a4a4a4" stroke-width="2.0"/>
<g transform="translate(70.60,599.76) scale(1,1.08)"><text x="0" y="0" font-size="24.5" text-anchor="end" fill="#000000" stroke="#000000" stroke-width="0.2" xml:space="preserve">180</text></g>
<line x1="92.50" y1="999.40" x2="92.50" y2="1006.90" stroke="#a4a4a4" stroke-width="2.0"/>
<g transform="translate(92.50,1041.50) scale(1,1.08)"><text x="0" y="0" font-size="24.5" text-anchor="middle" fill="#000000" stroke="#000000" stroke-width="0.2" xml:space="preserve">0</text></g>
<line x1="196.80" y1="999.40" x2="196.80" y2="1006.90" stroke="#a4a4a4" stroke-width="2.0"/>
<g transform="translate(196.80,1041.50) scale(1,1.08)"><text x="0" y="0" font-size="24.5" text-anchor="middle" fill="#000000" stroke="#000000" stroke-width="0.2" xml:space="preserve">2</text></g>
<line x1="301.10" y1="999.40" x2="301.10" y2="1006.90" stroke="#a4a4a4" stroke-width="2.0"/>
<g transform="translate(301.10,1041.50) scale(1,1.08)"><text x="0" y="0" font-size="24.5" text-anchor="middle" fill="#000000" stroke="#000000" stroke-width="0.2" xml:space="preserve">4</text></g>
<line x1="405.40" y1="999.40" x2="405.40" y2="1006.90" stroke="#a4a4a4" stroke-width="2.0"/>
<g transform="translate(405.40,1041.50) scale(1,1.08)"><text x="0" y="0" font-size="24.5" text-anchor="middle" fill="#000000" stroke="#000000" stroke-width="0.2" xml:space="preserve">6</text></g>
<line x1="509.70" y1="999.40" x2="509.70" y2="1006.90" stroke="#a4a4a4" stroke-width="2.0"/>
<g transform="translate(509.70,1041.50) scale(1,1.08)"><text x="0" y="0" font-size="24.5" text-anchor="middle" fill="#000000" stroke="#000000" stroke-width="0.2" xml:space="preserve">8</text></g>
<line x1="614.00" y1="999.40" x2="614.00" y2="1006.90" stroke="#a4a4a4" stroke-width="2.0"/>
<g transform="translate(614.00,1041.50) scale(1,1.08)"><text x="0" y="0" font-size="24.5" text-anchor="middle" fill="#000000" stroke="#000000" stroke-width="0.2" xml:space="preserve">10</text></g>
<path d="M92.50,999.40 C95.11,999.32 102.93,999.10 108.14,998.95 C113.36,998.80 120.31,998.72 123.79,998.49 C127.27,998.27 127.75,998.11 129.00,997.59 C130.26,997.06 130.20,999.59 131.30,995.32 C132.39,991.05 133.98,986.51 135.58,971.96 C137.18,957.40 139.29,927.54 140.90,908.00 C142.50,888.46 143.81,872.47 145.22,854.70 C146.64,836.94 148.34,813.84 149.40,801.40 C150.46,788.97 149.82,795.32 151.59,780.08 C153.35,764.85 157.18,731.40 159.98,710.00 C162.78,688.61 165.86,665.17 168.38,651.72 C170.90,638.26 173.32,631.42 175.11,629.26 C176.89,627.11 177.69,633.65 179.07,638.79 C180.45,643.93 181.57,648.24 183.40,660.11 C185.22,671.98 188.37,696.70 190.02,710.00 C191.67,723.31 192.19,728.75 193.31,739.94 C194.42,751.13 195.66,769.16 196.70,777.14 C197.73,785.11 198.13,784.54 199.51,787.80 C200.89,791.05 202.68,793.77 204.99,796.64 C207.30,799.51 210.93,801.14 213.38,805.03 C215.83,808.93 217.64,811.80 219.69,820.00 C221.75,828.20 223.54,842.83 225.69,854.25 C227.84,865.66 230.00,877.04 232.57,888.49 C235.15,899.95 237.99,911.51 241.13,922.97 C244.27,934.42 248.25,948.67 251.40,957.22 C254.55,965.76 257.14,970.52 260.01,974.23 C262.87,977.93 265.76,978.42 268.61,979.44 C271.46,980.46 274.26,979.21 277.11,980.35 C279.96,981.48 282.57,984.13 285.72,986.25 C288.86,988.36 293.13,991.20 295.99,993.05 C298.85,994.90 298.89,996.41 302.87,997.36 C306.85,998.30 311.48,998.46 319.87,998.72 C328.27,998.98 339.00,998.91 353.25,998.95 C367.50,998.98 388.02,998.95 405.40,998.95 C422.78,998.95 440.17,998.95 457.55,998.95 C474.93,998.95 492.32,998.95 509.70,998.95 C527.08,998.95 547.68,998.95 561.85,998.95 C576.02,998.95 589.23,998.95 594.70,998.95" fill="none" stroke="#0000ff" stroke-width="4.6" stroke-linejoin="round" stroke-linecap="round"/>
<path d="M92.50,998.72 C96.85,998.72 109.88,998.72 118.58,998.72 C127.27,998.72 139.00,998.91 144.65,998.72 C150.30,998.53 149.00,1002.01 152.47,997.59 C155.95,993.16 160.82,985.26 165.51,972.18 C170.20,959.11 175.68,937.48 180.63,919.11 C185.59,900.74 191.06,878.93 195.24,861.96 C199.41,844.99 202.10,828.58 205.67,817.28 C209.23,805.98 213.11,799.55 216.62,794.15 C220.12,788.74 223.03,785.04 226.68,784.85 C230.33,784.66 235.18,788.32 238.52,793.01 C241.86,797.70 243.94,804.39 246.71,812.97 C249.47,821.55 252.32,835.39 255.10,844.50 C257.89,853.61 260.34,860.07 263.40,867.63 C266.45,875.19 270.54,884.60 273.41,889.86 C276.28,895.11 278.16,897.42 280.61,899.15 C283.05,900.89 285.78,900.21 288.06,900.29 C290.35,900.36 291.57,898.70 294.32,899.61 C297.08,900.52 301.74,903.01 304.59,905.73 C307.44,908.45 308.88,912.50 311.43,915.94 C313.97,919.38 316.21,921.72 319.87,926.37 C323.54,931.02 329.01,938.05 333.43,943.83 C337.86,949.62 342.04,957.33 346.42,961.07 C350.80,964.81 355.28,963.64 359.72,966.29 C364.15,968.93 367.70,972.52 373.01,976.95 C378.33,981.37 385.84,989.31 391.58,992.82 C397.33,996.34 403.44,997.89 407.49,998.04 C411.53,998.19 412.29,995.47 415.83,993.73 C419.37,991.99 424.71,989.04 428.71,987.61 C432.71,986.17 435.62,985.07 439.82,985.11 C444.02,985.15 449.21,985.98 453.90,987.83 C458.59,989.69 463.89,994.45 467.98,996.22 C472.07,998.00 474.41,998.11 478.41,998.49 C482.41,998.87 487.80,999.32 491.97,998.49 C496.14,997.66 499.18,994.83 503.44,993.50 C507.70,992.18 512.83,990.71 517.52,990.55 C522.22,990.40 526.91,991.39 531.60,992.60 C536.30,993.81 539.86,997.06 545.68,997.81 C551.51,998.57 560.72,997.13 566.54,997.13 C572.37,997.13 575.93,997.55 580.62,997.81 C585.32,998.08 592.36,998.57 594.70,998.72" fill="none" stroke="#ff0000" stroke-width="4.6" stroke-linejoin="round" stroke-linecap="round"/>
<path d="M92.50,999.40 C95.11,999.32 102.93,999.10 108.14,998.95 C113.36,998.80 120.14,998.80 123.79,998.49 C127.44,998.19 128.31,999.25 130.05,997.13 C131.79,995.02 132.92,991.84 134.22,985.79 C135.52,979.74 136.48,971.81 137.87,960.84 C139.26,949.88 141.00,932.12 142.56,920.02 C144.13,907.92 145.26,902.56 147.26,888.27 C149.26,873.98 152.30,851.53 154.56,834.29 C156.82,817.05 159.08,799.66 160.82,784.85 C162.55,770.03 163.46,760.66 164.99,745.38 C166.52,730.11 168.17,707.21 169.99,693.22 C171.82,679.23 173.99,664.68 175.94,661.47 C177.89,658.26 179.94,667.52 181.68,673.94 C183.41,680.37 184.72,690.91 186.37,700.02 C188.02,709.13 190.14,720.28 191.58,728.60 C193.03,736.92 193.29,744.67 195.03,749.92 C196.77,755.17 198.96,756.53 202.01,760.13 C205.07,763.72 210.39,767.35 213.38,771.47 C216.38,775.59 218.08,778.76 220.01,784.85 C221.94,790.93 223.73,801.29 224.96,807.98 C226.20,814.67 226.29,817.66 227.41,824.99 C228.53,832.32 230.54,844.23 231.69,851.98 C232.84,859.73 232.43,863.96 234.30,871.48 C236.16,879.01 239.76,887.40 242.90,897.11 C246.04,906.83 249.98,920.36 253.12,929.77 C256.26,939.18 258.87,947.05 261.73,953.59 C264.59,960.13 267.42,964.70 270.28,969.01 C273.14,973.32 275.45,976.27 278.88,979.44 C282.32,982.62 286.88,986.21 290.88,988.06 C294.88,989.91 298.04,989.99 302.87,990.55 C307.71,991.12 315.39,990.97 319.87,991.46 C324.36,991.95 325.96,992.41 329.78,993.50 C333.61,994.60 337.17,997.17 342.82,998.04 C348.47,998.91 353.25,998.61 363.68,998.72 C374.11,998.83 389.75,998.72 405.40,998.72 C421.04,998.72 440.17,998.72 457.55,998.72 C474.93,998.72 492.32,998.72 509.70,998.72 C527.08,998.72 547.68,998.72 561.85,998.72 C576.02,998.72 589.23,998.72 594.70,998.72" fill="none" stroke="#0000ff" stroke-width="4.6" stroke-linejoin="round" stroke-linecap="round" stroke-dasharray="9.5 9.5"/>
<path d="M92.50,998.72 C96.85,998.72 109.88,998.72 118.58,998.72 C127.27,998.72 138.83,998.91 144.65,998.72 C150.47,998.53 149.87,1001.63 153.52,997.59 C157.17,993.54 161.34,988.51 166.55,974.45 C171.77,960.39 178.98,936.58 184.81,913.22 C190.63,889.86 196.89,852.02 201.49,834.29 C206.10,816.56 209.32,812.40 212.44,806.85 C215.57,801.29 217.66,801.37 220.27,800.95 C222.88,800.53 225.19,801.18 228.09,804.35 C230.99,807.53 234.93,813.95 237.69,820.00 C240.44,826.05 241.75,832.06 244.62,840.64 C247.49,849.22 251.48,863.51 254.90,871.48 C258.31,879.46 261.70,884.22 265.12,888.49 C268.53,892.77 271.96,892.80 275.39,897.11 C278.82,901.42 282.56,907.77 285.72,914.35 C288.87,920.93 291.46,931.44 294.32,936.58 C297.18,941.72 300.02,945.19 302.87,945.19 C305.72,945.19 308.60,940.17 311.43,936.58 C314.25,932.99 316.21,923.57 319.82,923.65 C323.44,923.72 328.26,933.48 333.12,937.03 C337.98,940.58 344.12,943.64 348.97,944.97 C353.83,946.29 357.39,941.41 362.27,944.97 C367.16,948.52 373.40,960.31 378.28,966.29 C383.17,972.26 387.16,978.16 391.58,980.80 C396.00,983.45 400.73,983.22 404.77,982.16 C408.82,981.10 412.28,977.32 415.83,974.45 C419.38,971.58 422.63,965.49 426.10,964.93 C429.58,964.36 433.19,969.12 436.69,971.05 C440.19,972.98 442.34,976.04 447.12,976.49 C451.90,976.95 459.55,973.28 465.37,973.77 C471.20,974.26 475.72,976.87 482.06,979.44 C488.41,982.01 497.53,987.12 503.44,989.19 C509.35,991.27 511.70,990.74 517.52,991.92 C523.35,993.09 531.43,995.24 538.38,996.22 C545.34,997.21 553.33,997.70 559.24,997.81 C565.15,997.93 567.93,996.75 573.84,996.91 C579.75,997.06 591.23,998.42 594.70,998.72" fill="none" stroke="#ff0000" stroke-width="4.6" stroke-linejoin="round" stroke-linecap="round" stroke-dasharray="9.5 9.5"/>
<line x1="218.50" y1="593.00" x2="283.00" y2="593.00" stroke="#0000ff" stroke-width="4.6" stroke-linecap="round"/>
<g transform="translate(291.80,601.20) scale(1,1.08)"><text x="0" y="0" font-size="23.2" text-anchor="start" textLength="139.0" lengthAdjust="spacingAndGlyphs" fill="#000000" stroke="#000000" stroke-width="0.2" xml:space="preserve">20%Pt/C  fresh</text></g>
<line x1="218.50" y1="629.00" x2="283.00" y2="629.00" stroke="#ff0000" stroke-width="4.6" stroke-linecap="round"/>
<g transform="translate(291.80,637.30) scale(1,1.08)"><text x="0" y="0" font-size="23.2" text-anchor="start" textLength="314.5" lengthAdjust="spacingAndGlyphs" fill="#000000" stroke="#000000" stroke-width="0.2" xml:space="preserve">20%Pt/C, 30,000 cycles 0.6 to 1V</text></g>
<line x1="218.50" y1="665.00" x2="283.00" y2="665.00" stroke="#0000ff" stroke-width="4.6" stroke-linecap="round" stroke-dasharray="9.5 9.5"/>
<g transform="translate(291.80,673.30) scale(1,1.08)"><text x="0" y="0" font-size="23.2" text-anchor="start" textLength="144.0" lengthAdjust="spacingAndGlyphs" fill="#000000" stroke="#000000" stroke-width="0.2" xml:space="preserve">40%Pt/C  Fresh</text></g>
<line x1="218.50" y1="700.60" x2="283.00" y2="700.60" stroke="#ff0000" stroke-width="4.6" stroke-linecap="round" stroke-dasharray="9.5 9.5"/>
<g transform="translate(291.80,709.00) scale(1,1.08)"><text x="0" y="0" font-size="23.2" text-anchor="start" textLength="314.5" lengthAdjust="spacingAndGlyphs" fill="#000000" stroke="#000000" stroke-width="0.2" xml:space="preserve">40%Pt/C, 30,000 cycles 0.6 to 1V</text></g>
<g transform="translate(249.70,1064.50) scale(1,1.08)"><text x="0" y="0" font-size="25.6" text-anchor="start" textLength="207.5" lengthAdjust="spacingAndGlyphs" fill="#000000" stroke="#000000" stroke-width="0.2" xml:space="preserve">Pt Particle size (nm)</text></g>
<g transform="translate(22.40,896.50) rotate(-90)"><text x="0" y="0" font-size="25.5" textLength="146.5" lengthAdjust="spacingAndGlyphs" fill="#000000" stroke="#000000" stroke-width="0.2" xml:space="preserve"># Pt Particles</text></g>
<g transform="translate(107.40,593.70) scale(1,1.08)"><text x="0" y="0" font-size="31.2" text-anchor="start" fill="#000000" stroke="#000000" stroke-width="0.2" xml:space="preserve">(C)</text></g>
<line x1="739.50" y1="597.59" x2="739.50" y2="1020.30" stroke="#a4a4a4" stroke-width="2.0"/>
<line x1="739.50" y1="1012.80" x2="1239.50" y2="1012.80" stroke="#a4a4a4" stroke-width="2.0"/>
<line x1="732.00" y1="1012.80" x2="739.50" y2="1012.80" stroke="#a4a4a4" stroke-width="2.0"/>
<g transform="translate(717.50,1021.40) scale(1,1.08)"><text x="0" y="0" font-size="24.5" text-anchor="end" fill="#000000" stroke="#000000" stroke-width="0.2" xml:space="preserve">0</text></g>
<line x1="732.00" y1="966.67" x2="739.50" y2="966.67" stroke="#a4a4a4" stroke-width="2.0"/>
<g transform="translate(717.50,975.27) scale(1,1.08)"><text x="0" y="0" font-size="24.5" text-anchor="end" fill="#000000" stroke="#000000" stroke-width="0.2" xml:space="preserve">20</text></g>
<line x1="732.00" y1="920.53" x2="739.50" y2="920.53" stroke="#a4a4a4" stroke-width="2.0"/>
<g transform="translate(717.50,929.13) scale(1,1.08)"><text x="0" y="0" font-size="24.5" text-anchor="end" fill="#000000" stroke="#000000" stroke-width="0.2" xml:space="preserve">40</text></g>
<line x1="732.00" y1="874.40" x2="739.50" y2="874.40" stroke="#a4a4a4" stroke-width="2.0"/>
<g transform="translate(717.50,883.00) scale(1,1.08)"><text x="0" y="0" font-size="24.5" text-anchor="end" fill="#000000" stroke="#000000" stroke-width="0.2" xml:space="preserve">60</text></g>
<line x1="732.00" y1="828.26" x2="739.50" y2="828.26" stroke="#a4a4a4" stroke-width="2.0"/>
<g transform="translate(717.50,836.86) scale(1,1.08)"><text x="0" y="0" font-size="24.5" text-anchor="end" fill="#000000" stroke="#000000" stroke-width="0.2" xml:space="preserve">80</text></g>
<line x1="732.00" y1="782.13" x2="739.50" y2="782.13" stroke="#a4a4a4" stroke-width="2.0"/>
<g transform="translate(717.50,790.73) scale(1,1.08)"><text x="0" y="0" font-size="24.5" text-anchor="end" fill="#000000" stroke="#000000" stroke-width="0.2" xml:space="preserve">100</text></g>
<line x1="732.00" y1="736.00" x2="739.50" y2="736.00" stroke="#a4a4a4" stroke-width="2.0"/>
<g transform="translate(717.50,744.60) scale(1,1.08)"><text x="0" y="0" font-size="24.5" text-anchor="end" fill="#000000" stroke="#000000" stroke-width="0.2" xml:space="preserve">120</text></g>
<line x1="732.00" y1="689.86" x2="739.50" y2="689.86" stroke="#a4a4a4" stroke-width="2.0"/>
<g transform="translate(717.50,698.46) scale(1,1.08)"><text x="0" y="0" font-size="24.5" text-anchor="end" fill="#000000" stroke="#000000" stroke-width="0.2" xml:space="preserve">140</text></g>
<line x1="732.00" y1="643.73" x2="739.50" y2="643.73" stroke="#a4a4a4" stroke-width="2.0"/>
<g transform="translate(717.50,652.33) scale(1,1.08)"><text x="0" y="0" font-size="24.5" text-anchor="end" fill="#000000" stroke="#000000" stroke-width="0.2" xml:space="preserve">160</text></g>
<line x1="732.00" y1="597.59" x2="739.50" y2="597.59" stroke="#a4a4a4" stroke-width="2.0"/>
<g transform="translate(717.50,606.19) scale(1,1.08)"><text x="0" y="0" font-size="24.5" text-anchor="end" fill="#000000" stroke="#000000" stroke-width="0.2" xml:space="preserve">180</text></g>
<line x1="739.50" y1="1012.80" x2="739.50" y2="1020.30" stroke="#a4a4a4" stroke-width="2.0"/>
<g transform="translate(739.50,1053.50) scale(1,1.08)"><text x="0" y="0" font-size="24.5" text-anchor="middle" fill="#000000" stroke="#000000" stroke-width="0.2" xml:space="preserve">0</text></g>
<line x1="839.50" y1="1012.80" x2="839.50" y2="1020.30" stroke="#a4a4a4" stroke-width="2.0"/>
<g transform="translate(839.50,1053.50) scale(1,1.08)"><text x="0" y="0" font-size="24.5" text-anchor="middle" fill="#000000" stroke="#000000" stroke-width="0.2" xml:space="preserve">2</text></g>
<line x1="939.50" y1="1012.80" x2="939.50" y2="1020.30" stroke="#a4a4a4" stroke-width="2.0"/>
<g transform="translate(939.50,1053.50) scale(1,1.08)"><text x="0" y="0" font-size="24.5" text-anchor="middle" fill="#000000" stroke="#000000" stroke-width="0.2" xml:space="preserve">4</text></g>
<line x1="1039.50" y1="1012.80" x2="1039.50" y2="1020.30" stroke="#a4a4a4" stroke-width="2.0"/>
<g transform="translate(1039.50,1053.50) scale(1,1.08)"><text x="0" y="0" font-size="24.5" text-anchor="middle" fill="#000000" stroke="#000000" stroke-width="0.2" xml:space="preserve">6</text></g>
<line x1="1139.50" y1="1012.80" x2="1139.50" y2="1020.30" stroke="#a4a4a4" stroke-width="2.0"/>
<g transform="translate(1139.50,1053.50) scale(1,1.08)"><text x="0" y="0" font-size="24.5" text-anchor="middle" fill="#000000" stroke="#000000" stroke-width="0.2" xml:space="preserve">8</text></g>
<line x1="1239.50" y1="1012.80" x2="1239.50" y2="1020.30" stroke="#a4a4a4" stroke-width="2.0"/>
<g transform="translate(1239.50,1053.50) scale(1,1.08)"><text x="0" y="0" font-size="24.5" text-anchor="middle" fill="#000000" stroke="#000000" stroke-width="0.2" xml:space="preserve">10</text></g>
<path d="M739.50,1012.80 C742.00,1012.72 749.50,1012.49 754.50,1012.34 C759.50,1012.18 766.17,1012.11 769.50,1011.88 C772.83,1011.65 773.30,1011.49 774.50,1010.95 C775.70,1010.42 775.65,1012.99 776.70,1008.65 C777.75,1004.30 779.27,999.69 780.80,984.89 C782.33,970.09 784.36,939.72 785.90,919.84 C787.44,899.96 788.69,883.70 790.05,865.63 C791.41,847.56 793.03,824.07 794.05,811.43 C795.07,798.78 794.46,805.24 796.15,789.74 C797.84,774.25 801.52,740.22 804.20,718.47 C806.88,696.71 809.83,672.87 812.25,659.18 C814.67,645.50 816.99,638.54 818.70,636.35 C820.41,634.16 821.17,640.81 822.50,646.03 C823.83,651.26 824.90,655.65 826.65,667.72 C828.40,679.79 831.42,704.93 833.00,718.47 C834.58,732.00 835.08,737.53 836.15,748.91 C837.22,760.29 838.41,778.63 839.40,786.74 C840.39,794.86 840.77,794.28 842.10,797.58 C843.43,800.89 845.13,803.66 847.35,806.58 C849.57,809.50 853.05,811.16 855.40,815.12 C857.75,819.08 859.48,822.00 861.45,830.34 C863.42,838.68 865.14,853.56 867.20,865.17 C869.26,876.78 871.33,888.35 873.80,900.00 C876.27,911.65 878.99,923.42 882.00,935.06 C885.01,946.71 888.83,961.21 891.85,969.90 C894.87,978.58 897.35,983.43 900.10,987.20 C902.85,990.96 905.62,991.46 908.35,992.50 C911.08,993.54 913.77,992.27 916.50,993.42 C919.23,994.58 921.73,997.27 924.75,999.42 C927.77,1001.57 931.86,1004.46 934.60,1006.34 C937.34,1008.23 937.38,1009.76 941.20,1010.72 C945.02,1011.69 949.45,1011.84 957.50,1012.11 C965.55,1012.38 975.83,1012.30 989.50,1012.34 C1003.17,1012.38 1022.83,1012.34 1039.50,1012.34 C1056.17,1012.34 1072.83,1012.34 1089.50,1012.34 C1106.17,1012.34 1122.83,1012.34 1139.50,1012.34 C1156.17,1012.34 1175.92,1012.34 1189.50,1012.34 C1203.08,1012.34 1215.75,1012.34 1221.00,1012.34" fill="none" stroke="#0000ff" stroke-width="4.6" stroke-linejoin="round" stroke-linecap="round"/>
<path d="M739.50,1012.11 C742.83,1012.11 754.08,1012.22 759.50,1012.11 C764.92,1011.99 768.58,1011.95 772.00,1011.42 C775.42,1010.88 777.08,1012.49 780.00,1008.88 C782.92,1005.26 786.17,996.38 789.50,989.73 C792.83,983.08 796.67,974.35 800.00,968.97 C803.33,963.59 806.92,960.44 809.50,957.44 C812.08,954.44 813.67,953.86 815.50,950.98 C817.33,948.10 819.00,944.56 820.50,940.14 C822.00,935.72 822.35,935.22 824.50,924.45 C826.65,913.69 830.43,887.78 833.40,875.55 C836.37,863.33 838.97,858.14 842.30,851.10 C845.63,844.06 849.68,838.53 853.40,833.34 C857.12,828.15 861.25,824.65 864.60,819.96 C867.95,815.27 871.10,808.16 873.50,805.20 C875.90,802.24 877.17,801.81 879.00,802.20 C880.83,802.58 882.45,804.93 884.50,807.50 C886.55,810.08 887.97,811.12 891.30,817.65 C894.63,824.19 900.05,837.45 904.50,846.72 C908.95,855.98 913.53,864.36 918.00,873.24 C922.47,882.13 927.22,891.43 931.30,900.00 C935.38,908.58 938.55,917.23 942.50,924.68 C946.45,932.14 951.75,939.29 955.00,944.75 C958.25,950.21 959.92,953.29 962.00,957.44 C964.08,961.59 965.58,965.05 967.50,969.66 C969.42,974.28 971.42,980.54 973.50,985.12 C975.58,989.69 976.83,993.85 980.00,997.11 C983.17,1000.38 988.33,1003.46 992.50,1004.73 C996.67,1006.00 1000.00,1005.34 1005.00,1004.73 C1010.00,1004.11 1017.08,1001.46 1022.50,1001.04 C1027.92,1000.61 1032.08,1000.96 1037.50,1002.19 C1042.92,1003.42 1050.42,1006.80 1055.00,1008.42 C1059.58,1010.03 1059.25,1011.26 1065.00,1011.88 C1070.75,1012.49 1077.08,1012.07 1089.50,1012.11 C1101.92,1012.15 1122.83,1012.11 1139.50,1012.11 C1156.17,1012.11 1175.92,1012.11 1189.50,1012.11 C1203.08,1012.11 1215.75,1012.11 1221.00,1012.11" fill="none" stroke="#ff0000" stroke-width="4.6" stroke-linejoin="round" stroke-linecap="round"/>
<path d="M739.50,1012.80 C742.00,1012.72 749.50,1012.49 754.50,1012.34 C759.50,1012.18 766.00,1012.18 769.50,1011.88 C773.00,1011.57 773.83,1012.65 775.50,1010.49 C777.17,1008.34 778.25,1005.11 779.50,998.96 C780.75,992.81 781.67,984.74 783.00,973.59 C784.33,962.44 786.00,944.37 787.50,932.07 C789.00,919.76 790.08,914.30 792.00,899.77 C793.92,885.24 796.83,862.40 799.00,844.87 C801.17,827.34 803.33,809.66 805.00,794.59 C806.67,779.52 807.53,769.98 809.00,754.45 C810.47,738.92 812.05,715.62 813.80,701.40 C815.55,687.17 817.63,672.37 819.50,669.10 C821.37,665.83 823.33,675.25 825.00,681.79 C826.67,688.32 827.92,699.05 829.50,708.32 C831.08,717.58 833.12,728.92 834.50,737.38 C835.88,745.84 836.13,753.72 837.80,759.06 C839.47,764.41 841.57,765.79 844.50,769.44 C847.43,773.10 852.52,776.79 855.40,780.98 C858.27,785.17 859.90,788.40 861.75,794.59 C863.60,800.78 865.32,811.31 866.50,818.11 C867.68,824.92 867.77,827.96 868.85,835.41 C869.93,842.87 871.85,854.98 872.95,862.86 C874.05,870.75 873.66,875.05 875.45,882.70 C877.24,890.35 880.69,898.89 883.70,908.77 C886.71,918.65 890.49,932.41 893.50,941.98 C896.51,951.56 899.01,959.55 901.75,966.20 C904.49,972.86 907.21,977.51 909.95,981.89 C912.69,986.27 914.91,989.27 918.20,992.50 C921.49,995.73 925.87,999.38 929.70,1001.27 C933.53,1003.15 936.57,1003.23 941.20,1003.80 C945.83,1004.38 953.20,1004.23 957.50,1004.73 C961.80,1005.23 963.33,1005.69 967.00,1006.80 C970.67,1007.92 974.08,1010.53 979.50,1011.42 C984.92,1012.30 989.50,1011.99 999.50,1012.11 C1009.50,1012.22 1024.50,1012.11 1039.50,1012.11 C1054.50,1012.11 1072.83,1012.11 1089.50,1012.11 C1106.17,1012.11 1122.83,1012.11 1139.50,1012.11 C1156.17,1012.11 1175.92,1012.11 1189.50,1012.11 C1203.08,1012.11 1215.75,1012.11 1221.00,1012.11" fill="none" stroke="#0000ff" stroke-width="4.6" stroke-linejoin="round" stroke-linecap="round" stroke-dasharray="9.5 9.5"/>
<path d="M739.50,1012.11 C742.83,1012.11 752.75,1012.26 759.50,1012.11 C766.25,1011.95 772.87,1013.57 780.00,1011.19 C787.13,1008.80 794.88,1003.00 802.30,997.81 C809.72,992.62 817.83,985.97 824.50,980.04 C831.17,974.12 837.10,968.97 842.30,962.28 C847.50,955.59 852.00,946.60 855.70,939.91 C859.40,933.22 861.53,928.80 864.50,922.15 C867.47,915.50 870.50,906.65 873.50,900.00 C876.50,893.35 879.83,887.08 882.50,882.24 C885.17,877.40 886.92,873.55 889.50,870.94 C892.08,868.32 895.12,866.17 898.00,866.56 C900.88,866.94 904.47,870.40 906.80,873.24 C909.13,876.09 910.52,881.39 912.00,883.62 C913.48,885.85 913.97,886.51 915.70,886.62 C917.43,886.74 920.52,887.51 922.40,884.32 C924.28,881.13 925.52,873.01 927.00,867.48 C928.48,861.94 929.10,856.79 931.30,851.10 C933.50,845.41 937.25,834.45 940.20,833.34 C943.15,832.22 946.03,838.49 949.00,844.41 C951.97,850.33 954.92,860.48 958.00,868.86 C961.08,877.24 963.83,887.89 967.50,894.70 C971.17,901.50 975.83,903.00 980.00,909.69 C984.17,916.38 988.75,928.57 992.50,934.83 C996.25,941.10 998.33,945.21 1002.50,947.29 C1006.67,949.37 1012.08,944.37 1017.50,947.29 C1022.92,950.21 1028.75,960.67 1035.00,964.82 C1041.25,968.97 1050.00,969.32 1055.00,972.20 C1060.00,975.09 1061.25,977.55 1065.00,982.12 C1068.75,986.70 1072.92,996.08 1077.50,999.65 C1082.08,1003.23 1085.42,1002.92 1092.50,1003.57 C1099.58,1004.23 1111.67,1003.38 1120.00,1003.57 C1128.33,1003.77 1134.58,1003.92 1142.50,1004.73 C1150.42,1005.53 1159.67,1007.46 1167.50,1008.42 C1175.33,1009.38 1180.58,1010.07 1189.50,1010.49 C1198.42,1010.92 1215.75,1010.88 1221.00,1010.95" fill="none" stroke="#ff0000" stroke-width="4.6" stroke-linejoin="round" stroke-linecap="round" stroke-dasharray="9.5 9.5"/>
<line x1="911.00" y1="605.20" x2="977.00" y2="605.20" stroke="#0000ff" stroke-width="4.6" stroke-linecap="round"/>
<g transform="translate(985.00,613.20) scale(1,1.08)"><text x="0" y="0" font-size="23.2" text-anchor="start" textLength="140.5" lengthAdjust="spacingAndGlyphs" fill="#000000" stroke="#000000" stroke-width="0.2" xml:space="preserve">20%Pt/C  fresh</text></g>
<line x1="911.00" y1="645.10" x2="977.00" y2="645.10" stroke="#ff0000" stroke-width="4.6" stroke-linecap="round"/>
<g transform="translate(985.00,654.20) scale(1,1.08)"><text x="0" y="0" font-size="23.2" text-anchor="start" textLength="244.0" lengthAdjust="spacingAndGlyphs" fill="#000000" stroke="#000000" stroke-width="0.2" xml:space="preserve">20%Pt/C, 1.2V, 100 hours</text></g>
<line x1="911.00" y1="686.50" x2="977.00" y2="686.50" stroke="#0000ff" stroke-width="4.6" stroke-linecap="round" stroke-dasharray="9.5 9.5"/>
<g transform="translate(985.00,694.20) scale(1,1.08)"><text x="0" y="0" font-size="23.2" text-anchor="start" textLength="144.5" lengthAdjust="spacingAndGlyphs" fill="#000000" stroke="#000000" stroke-width="0.2" xml:space="preserve">40%Pt/C  Fresh</text></g>
<line x1="911.00" y1="727.20" x2="977.00" y2="727.20" stroke="#ff0000" stroke-width="4.6" stroke-linecap="round" stroke-dasharray="9.5 9.5"/>
<g transform="translate(985.00,735.20) scale(1,1.08)"><text x="0" y="0" font-size="23.2" text-anchor="start" textLength="244.0" lengthAdjust="spacingAndGlyphs" fill="#000000" stroke="#000000" stroke-width="0.2" xml:space="preserve">40%Pt/C, 1.2V, 136 hours</text></g>
<g transform="translate(843.80,1072.00) scale(1,1.08)"><text x="0" y="0" font-size="25.6" text-anchor="start" textLength="212.5" lengthAdjust="spacingAndGlyphs" fill="#000000" stroke="#000000" stroke-width="0.2" xml:space="preserve">Pt Particle Size (nm)</text></g>
<g transform="translate(666.20,862.40) rotate(-90)"><text x="0" y="0" font-size="26.5" textLength="144.6" lengthAdjust="spacingAndGlyphs" fill="#000000" stroke="#000000" stroke-width="0.2" xml:space="preserve"># Pt particles</text></g>
<g transform="translate(756.00,594.90) scale(1,1.08)"><text x="0" y="0" font-size="31.0" text-anchor="start" fill="#000000" stroke="#000000" stroke-width="0.2" xml:space="preserve">(D)</text></g>
</svg>
</body></html>
